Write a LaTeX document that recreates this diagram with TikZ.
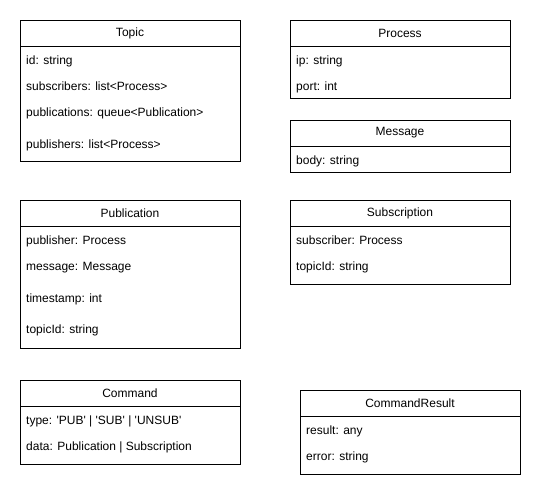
\documentclass[tikz,border=0pt]{standalone}
\usepackage{fontspec}
\setmainfont{Liberation Sans}
\usepackage{tikz}
\usetikzlibrary{positioning}

\tikzset{
  classhead/.style={rectangle, draw=black, line width=1pt, minimum width=220pt, minimum height=26pt, inner sep=0pt, outer sep=0pt, font=\fontsize{12}{14}\selectfont},
  classbody/.style={rectangle, draw=black, line width=1pt, minimum width=220pt, inner sep=0pt, outer sep=0pt},
  field/.style={anchor=base west, inner sep=0pt, text=black, font=\fontsize{12}{14}\selectfont},
}

\begin{document}
\begin{tikzpicture}[x=1pt, y=-1pt]
    \useasboundingbox (0,0) rectangle (541,498);

    % Topic
    \node[classhead] (topic) at (130,33) {Topic};
    \node[classbody, minimum height=115pt, below=0pt of topic] (topicb) {};
    \node[field] (topic1) at (26,64) {id: string};
    \node[field] (topic2) at (26,90) {subscribers: list<Process>};
    \node[field] (topic3) at (26,116) {publications: queue<Publication>};
    \node[field] (topic4) at (26,148) {publishers: list<Process>};

    % Process
    \node[classhead] (process) at (400,33) {Process};
    \node[classbody, minimum height=52pt, below=0pt of process] (processb) {};
    \node[field] (process1) at (296,64) {ip: string};
    \node[field] (process2) at (296,90) {port: int};

    % Message
    \node[classhead] (message) at (400,133) {Message};
    \node[classbody, minimum height=26pt, below=0pt of message] (messageb) {};
    \node[field] (message1) at (296,164) {body: string};

    % Publication
    \node[classhead] (publication) at (130,213) {Publication};
    \node[classbody, minimum height=122pt, below=0pt of publication] (publicationb) {};
    \node[field] (publication1) at (26,244) {publisher: Process};
    \node[field] (publication2) at (26,270) {message: Message};
    \node[field] (publication3) at (26,302) {timestamp: int};
    \node[field] (publication4) at (26,333) {topicId: string};

    % Subscription
    \node[classhead] (subscription) at (400,213) {Subscription};
    \node[classbody, minimum height=58pt, below=0pt of subscription] (subscriptionb) {};
    \node[field] (subscription1) at (296,244) {subscriber: Process};
    \node[field] (subscription2) at (296,270) {topicId: string};

    % Command
    \node[classhead] (command) at (130,393) {Command};
    \node[classbody, minimum height=58pt, below=0pt of command] (commandb) {};
    \node[field] (command1) at (26,424) {type: \textquotesingle PUB\textquotesingle{} | \textquotesingle SUB\textquotesingle{} | \textquotesingle UNSUB\textquotesingle};
    \node[field] (command2) at (26,450) {data: Publication | Subscription};

    % CommandResult
    \node[classhead] (cmdresult) at (410,403) {CommandResult};
    \node[classbody, minimum height=58pt, below=0pt of cmdresult] (cmdresultb) {};
    \node[field] (cmdresult1) at (306,434) {result: any};
    \node[field] (cmdresult2) at (306,460) {error: string};
\end{tikzpicture}
\end{document}
